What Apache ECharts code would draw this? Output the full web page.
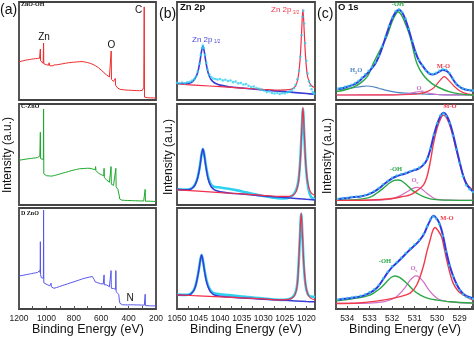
<!DOCTYPE html>
<html><head><meta charset="utf-8">
<script src="https://cdn.jsdelivr.net/npm/echarts@6/dist/echarts.min.js"></script>
<style>html,body{margin:0;padding:0;background:#fff}#c{width:474px;height:337px}</style>
</head><body><div id="c"></div>
<script>
// ---------- DATA (x = binding energy eV, y = relative intensity 0-100 of each panel) ----------
const aZnOOH = [[1200,39],[1192,40],[1185,39.5],[1178,40.5],[1170,40],[1162,41],[1155,40.5],[1147,41.5],[1140,41],[1132,41.8],[1125,41.2],[1117,42.2],[1110,41.6],[1102,42.5],[1095,42],[1087,42.8],[1080,42.2],[1072,43],[1065,42.4],[1058,43.2],[1050,42.6],[1047,44],[1045.5,41.5],[1044,52],[1042.5,40],[1038,38.5],[1030,38],[1024,37.5],[1022,38],[1020.5,58],[1019,37],[1014,36.5],[1008,35.5],[1000,36],[992,35],[985,35.5],[980,38],[976,35],[968,35.5],[960,34.8],[950,35.3],[940,35.8],[930,36.2],[920,36],[910,36.8],[900,36.5],[890,37.2],[880,37],[870,37.8],[860,37.5],[850,38.2],[840,38],[830,38.6],[820,38.3],[810,39],[800,38.6],[790,39.2],[780,38.8],[770,39.5],[760,39.1],[750,39.6],[740,39.2],[730,39.5],[720,38.8],[710,38.9],[700,38.2],[690,38],[680,37.4],[670,37],[660,36.3],[650,35.5],[640,34.8],[630,33.8],[620,33],[610,31.9],[600,30.5],[590,29.5],[580,28],[570,27],[560,25.5],[550,24.8],[540,23.5],[533,23],[529,22.5],[527,50],[525,21],[518,20],[510,19],[503,18],[499,17.5],[497,22],[495,15],[488,13],[478,12],[468,11],[460,10.8],[450,10.3],[440,10.5],[430,9.9],[420,10.2],[410,9.7],[400,10],[390,9.6],[380,9.9],[370,9.4],[360,9.7],[350,9.3],[340,9.6],[330,9.2],[320,9.5],[310,9.1],[300,9.8],[295,11.5],[292,10],[289,13],[286,95],[284,3],[280,2.4],[270,2.1],[260,2.3],[250,2],[240,2.2],[230,1.9],[220,2.1],[210,1.8],[200,2]];
const aCZnO = [[1200,44.5],[1192,45],[1185,44.6],[1177,45.4],[1170,45],[1162,45.7],[1155,45.3],[1147,46],[1140,45.6],[1132,46.3],[1125,45.9],[1117,46.6],[1110,46.1],[1102,46.8],[1095,46.4],[1087,47],[1080,46.6],[1072,47.3],[1065,47],[1058,47.6],[1052,47.2],[1048,48.5],[1045.5,47],[1044,72],[1042.5,46],[1038,45],[1030,44.5],[1022,45],[1020.5,95],[1019,31],[1014,30],[1008,29.5],[1000,29],[990,28.5],[980,28.8],[975,30.5],[972,28.2],[960,28.6],[950,28.9],[940,29.3],[930,29.6],[920,30],[910,30.4],[900,30.8],[890,31.2],[880,31.6],[870,32],[860,32.3],[850,32.7],[840,33.1],[830,33.4],[820,33.9],[810,34.2],[800,34.6],[790,35],[780,35.2],[770,35.6],[760,35.8],[750,36.2],[740,36],[730,36.5],[720,36.2],[710,36.7],[700,36.4],[690,36.8],[682,36.3],[670,36],[660,35.5],[650,35],[643,35],[641,38],[638,34],[630,32.5],[620,31.5],[609,30.7],[600,30],[590,29.5],[581,29],[579,36.3],[577,27],[568,26],[560,24.8],[550,23.5],[540,22.5],[530,22],[528,38],[526,20.5],[518,20],[510,19.5],[500,19],[495,19],[493,36.3],[491,18],[485,17],[478,15.5],[472,14.5],[470,15.5],[468,9],[465,6],[460,5.2],[450,4.8],[440,4.4],[430,4.6],[420,4.3],[410,4.5],[400,4.2],[390,4.4],[380,4.1],[370,4.3],[360,4],[350,4.2],[340,3.9],[330,4.1],[320,3.8],[310,4],[300,3.8],[290,4],[281,4.2],[279,15.5],[277,3.7],[270,3.6],[260,3.8],[250,3.5],[240,3.7],[230,3.4],[220,3.6],[210,3.5],[200,3.4]];
const aDZnO = [[1200,32.7],[1192,33.2],[1185,33],[1177,33.6],[1170,33.4],[1162,34],[1155,33.8],[1147,34.4],[1140,34.2],[1132,34.8],[1125,34.6],[1117,35.2],[1110,35],[1102,35.6],[1095,35.4],[1087,36],[1080,35.8],[1072,36.4],[1065,36.2],[1058,36.8],[1052,36.6],[1048,38],[1045.5,36],[1044,66.6],[1042.5,34],[1037,31],[1030,30],[1022,30.5],[1020.5,98],[1019,26],[1014,25.5],[1005,25],[995,24.2],[985,23.6],[975,23],[968,23.2],[966,25.5],[964,22],[955,21],[945,20.5],[935,20.9],[925,21.3],[915,21.7],[905,22.2],[895,22.6],[885,23.1],[875,23.5],[865,24],[855,24.4],[845,24.9],[835,25.3],[825,25.8],[815,26.2],[805,26.7],[795,27.1],[785,27.6],[775,28],[765,28.5],[755,28.9],[745,29.4],[735,29.8],[725,30.3],[715,30.6],[705,31],[695,31.2],[685,31.6],[675,31.8],[665,32.2],[658,32],[650,29],[645,27],[635,26.5],[625,26],[615,25.5],[605,25],[595,25.3],[585,24.8],[581,24.5],[579,33.7],[577,24],[568,24],[560,23.8],[550,23],[540,22],[530,21],[528,38],[526,20.5],[520,20.5],[510,20.3],[500,20],[495,19.5],[493,38],[491,17],[485,16.5],[478,15.5],[472,14.5],[470,12],[467,8],[463,5.6],[455,4.5],[445,4.2],[435,4.4],[425,4.1],[415,4.3],[405,4],[400,4.6],[395,4],[385,4.2],[375,3.9],[365,4.1],[355,3.8],[345,4],[335,3.8],[325,4],[315,3.7],[305,3.9],[295,3.6],[285,3.8],[281,3.9],[279,14.6],[277,3.4],[265,3.3],[250,3.2],[235,3.1],[220,3.1],[210,3],[200,3]];

const bCyan1 = [[1050,17.5],[1049.4,16.5],[1048.8,17.8],[1048.2,17],[1047.6,18],[1047,18.6],[1046.5,19.8],[1046,21.5],[1045.6,24],[1045.2,29],[1044.8,37],[1044.5,46],[1044.2,53],[1044,55.5],[1043.8,53],[1043.5,46],[1043.2,38],[1042.9,31],[1042.5,26],[1042.1,23.5],[1041.6,22],[1041.1,21.5],[1040.6,20.8],[1040,21.5],[1039.4,20],[1038.8,20.6],[1038.2,19.4],[1037.6,19.9],[1037,18.2],[1036.4,18.8],[1035.8,17],[1035.2,17.4],[1034.6,15.8],[1034,16.2],[1033.4,14.6],[1032.8,13.2],[1032.2,13.8],[1031.6,12.2],[1031,11.5],[1030.4,10.4],[1029.8,9.6],[1029.2,8.2],[1028.6,8.8],[1028,7.2],[1027.4,6.6],[1026.8,7.4],[1026.2,6.2],[1025.6,7],[1025,6.8],[1024.4,7.8],[1023.9,8.5],[1023.4,9.8],[1022.9,12],[1022.5,15.5],[1022.1,21],[1021.7,30],[1021.4,44],[1021.1,66],[1020.9,85],[1020.7,91],[1020.5,78],[1020.3,58],[1020,40],[1019.7,27],[1019.4,19],[1019.1,14.5],[1018.8,11],[1018.5,8],[1018.2,6.5]];
const bBlue1 = [[1050,17],[1048,16.8],[1047,17.3],[1046.4,18.8],[1045.8,22],[1045.2,28],[1044.7,39],[1044.3,50],[1044,55],[1043.7,50],[1043.3,39],[1042.8,28],[1042.2,21.5],[1041.6,18.5],[1041,16.8],[1040,15.2],[1038,13.6],[1035,12.2],[1030,10.2],[1025,8.5],[1020,6.6],[1018,5.8]];
const bRed1 = [[1050,16.3],[1045,15],[1040,13.6],[1035,12.2],[1030,10.8],[1026,10],[1024,10.5],[1023,12],[1022.3,16],[1021.8,26],[1021.4,45],[1021.1,70],[1020.8,92.5],[1020.5,70],[1020.2,45],[1019.8,26],[1019.3,18],[1018.8,14.5],[1018,12.5]];
const bCyan2 = [[1050,15.5],[1048,15.2],[1047,15.8],[1046.4,17.2],[1045.8,20.5],[1045.2,27.5],[1044.7,38.5],[1044.3,50.5],[1044,55.5],[1043.7,50.5],[1043.3,39],[1042.8,28],[1042.2,21],[1041.6,18.5],[1041,17.8],[1040,17.3],[1038,16],[1036,14.5],[1034,12.5],[1032,10.5],[1030,9],[1028,7.5],[1026,6.5],[1024.5,6.8],[1023.5,8.5],[1022.8,11.5],[1022.2,17],[1021.8,25],[1021.4,46],[1021.1,72],[1020.8,95],[1020.5,70],[1020.2,44],[1019.8,24],[1019.3,12],[1018.8,7.5],[1018,5.5]];
const bBlue2 = [[1050,15.5],[1048,15],[1047,15.4],[1046.4,16.8],[1045.8,20],[1045.2,27],[1044.7,38],[1044.3,50],[1044,55.4],[1043.7,50],[1043.3,38],[1042.8,26],[1042.2,19],[1041.6,16],[1041,14.3],[1040,13.2],[1038,12],[1035,10.8],[1030,9],[1025,7.3],[1020,5.6],[1018,5]];
const bRed2 = [[1050,15],[1045,13.7],[1040,12.3],[1035,11],[1030,9.6],[1026,8.5],[1024,8.6],[1023,10],[1022.3,14],[1021.8,24],[1021.4,45],[1021.1,72],[1020.8,96.7],[1020.5,72],[1020.2,45],[1019.8,25],[1019.3,15.5],[1018.8,11.5],[1018,9.5]];
const bCyan3 = [[1050,14.2],[1048,14],[1047,14.6],[1046.6,16],[1046,19.5],[1045.5,26.5],[1045,37.5],[1044.6,48.5],[1044.3,53.5],[1044,48.5],[1043.6,38],[1043.1,27.5],[1042.5,20.5],[1041.9,17],[1041.3,15.5],[1040,14.6],[1038,13.8],[1036,12.9],[1034,12],[1032,11.2],[1030,10.4],[1028,9.6],[1026,9],[1024.6,9.3],[1023.4,11],[1022.7,14.5],[1022.2,22],[1021.8,44],[1021.5,71],[1021.2,94],[1020.9,71],[1020.6,44],[1020.2,24],[1019.7,15],[1019.1,12.5],[1018,12]];
const bBlue3 = [[1050,13.9],[1048,13.6],[1047,14.2],[1046.6,15.6],[1046,19],[1045.5,26],[1045,37],[1044.6,48],[1044.3,53.5],[1044,48],[1043.6,37],[1043.1,26],[1042.5,19],[1041.9,15.5],[1041.3,13.8],[1040,12.6],[1038,11.8],[1035,10.9],[1030,9.7],[1025,8.6],[1020,7.5],[1018,7.2]];
const bRed3 = [[1050,14],[1045,13],[1040,12],[1035,11],[1030,10],[1026.5,9],[1024.5,9.2],[1023.3,10.8],[1022.6,14.5],[1022.1,24],[1021.8,45],[1021.5,72],[1021.2,95.3],[1020.9,72],[1020.6,45],[1020.2,25],[1019.7,15],[1019.1,11],[1018,9]];

const cEnv1 = [[534.4,11.3],[534.25,12],[534.1,12.8],[533.95,13.7],[533.8,14.9],[533.65,16.5],[533.5,18.6],[533.35,21.8],[533.2,25],[533.05,28.5],[532.9,32.5],[532.75,37],[532.6,44],[532.45,53],[532.3,63.5],[532.15,74],[532,83],[531.85,89.5],[531.7,92],[531.55,89],[531.4,81.5],[531.25,71],[531.1,59],[530.95,48],[530.8,40],[530.65,35],[530.5,30.5],[530.35,27],[530.2,26],[530.05,27],[529.9,29],[529.75,30.5],[529.6,30],[529.45,27],[529.3,21.5],[529.15,16.5],[529,13.5],[528.85,11.5],[528.7,10.5],[528.55,10],[528.4,9.5]];
const cData1 = [[534.4,11.8],[534.25,12.3],[534.1,13.4],[533.95,14.2],[533.8,15.6],[533.65,17.3],[533.5,19.5],[533.35,22.8],[533.2,26.3],[533.05,29.8],[532.9,33.6],[532.75,38.2],[532.6,45],[532.45,54.5],[532.3,64.5],[532.15,75.5],[532,84],[531.85,90.5],[531.7,92.5],[531.55,89.8],[531.4,82.8],[531.25,72.5],[531.1,60.5],[530.95,49],[530.8,40.8],[530.65,35.5],[530.5,30.2],[530.35,27.4],[530.2,26.6],[530.05,27.8],[529.9,29.8],[529.75,31.5],[529.6,30.8],[529.45,27.5],[529.3,22],[529.15,16.8],[529,13.8],[528.85,11.8],[528.7,10.6],[528.55,10.2],[528.4,9.7]];
const cOH1 = [[534.47,8.5],[534,11],[533.7,13.5],[533.43,17],[533.1,24],[532.84,37.4],[532.54,51],[532.24,64.6],[532,80],[531.85,87],[531.73,90],[531.6,87],[531.45,80],[531.2,64.6],[530.9,37.4],[530.6,25],[530.24,17],[529.9,12.5],[529.47,8.5],[529,6.3],[528.36,5.1]];
const cH2O1 = [[534.47,10.2],[534,11.5],[533.6,13],[533.3,14],[533.1,14.3],[532.9,13.8],[532.6,12],[532.2,9.5],[531.8,7.8],[531.4,7],[531,6.6],[530.5,6],[530,5.6],[529.5,5.3],[528.36,5.1]];
const cMO1 = [[534.47,5.1],[532,5.2],[531.2,5.6],[530.8,6.4],[530.5,8],[530.2,11.5],[530,16.3],[529.85,20.5],[529.68,23.8],[529.5,20.5],[529.25,14.3],[529,9.5],[528.66,6.2],[528.36,5.5]];
const cOv1 = [[534.47,5.1],[532,5.1],[531.5,5.6],[531.2,6.8],[530.95,8],[530.8,8.5],[530.6,8],[530.35,6.8],[530,5.6],[529.5,5.2],[528.36,5.1]];

const cEnv2 = [[534.4,6],[534.2,6.5],[534,7],[533.8,7.6],[533.6,8],[533.4,8.5],[533.2,9.5],[533,11],[532.8,13.3],[532.6,16.2],[532.4,19.8],[532.2,23.3],[532,26.3],[531.8,28.5],[531.6,30],[531.4,31.2],[531.2,33],[531,34.5],[530.8,36.3],[530.6,40],[530.45,45],[530.3,55],[530.15,68.5],[530,80],[529.85,88],[529.72,91.4],[529.6,89.5],[529.45,82.5],[529.3,71],[529.15,57],[529,43],[528.85,30],[528.7,21],[528.55,16.5],[528.4,13.3]];
const cData2 = [[534.4,6.2],[534.2,6.8],[534,7.2],[533.8,7.9],[533.6,8.3],[533.4,8.9],[533.2,9.9],[533,11.5],[532.8,13.9],[532.6,16.8],[532.4,20.5],[532.2,24],[532,27],[531.8,29.2],[531.6,30.6],[531.4,31.8],[531.2,33.6],[531,35.2],[530.8,37],[530.6,40.8],[530.45,46],[530.3,56],[530.15,69.5],[530,81],[529.85,88.8],[529.72,90.5],[529.6,88],[529.45,81],[529.3,68.5],[529.15,55],[529,41.5],[528.85,28.5],[528.7,19.5],[528.55,15.5],[528.4,12.8]];
const cMO2 = [[534.47,4.6],[533,5],[532,6.5],[531.5,8.5],[531.2,10],[530.9,14],[530.6,20],[530.45,28],[530.3,43],[530.15,62],[530,76],[529.85,85],[529.72,89],[529.6,87],[529.45,80],[529.3,69],[529.15,55],[529,42],[528.85,30],[528.7,22],[528.55,17.5],[528.4,14.5]];
const cOH2 = [[534.47,4.8],[533.6,5.3],[533.2,6.5],[532.9,8.6],[532.69,11.6],[532.4,16.5],[532.1,22],[531.9,24.3],[531.75,24.8],[531.6,24.2],[531.35,19.8],[531.1,14.5],[530.76,9.9],[530.45,7],[530.17,5.6],[529.5,4.8],[528.4,4.6]];
const cOv2 = [[534.47,4.6],[532.6,4.8],[532.2,5.5],[531.95,6.6],[531.65,9],[531.35,12.9],[531.1,16.2],[530.9,17.5],[530.7,16],[530.46,11.6],[530.2,7.5],[530,5.6],[529.5,4.8],[528.4,4.6]];

const cEnv3 = [[534.4,9.2],[534.2,9.8],[534,10.4],[533.8,11],[533.6,11.7],[533.4,12.5],[533.2,14],[533,16],[532.8,18.7],[532.6,23],[532.4,29.5],[532.2,36],[532,41.5],[531.8,45.5],[531.6,50],[531.4,54.5],[531.2,59],[531,63],[530.8,67.5],[530.6,73.5],[530.45,81],[530.3,88],[530.17,92.3],[530.05,90.5],[529.9,85],[529.75,74],[529.6,58],[529.45,44],[529.3,33.5],[529.15,25.5],[529,19.5],[528.85,15.5],[528.7,13],[528.55,11.7],[528.4,10.8]];
const cData3 = [[534.4,9.6],[534.2,10.2],[534,10.9],[533.8,11.5],[533.6,12.2],[533.4,13.1],[533.2,14.6],[533,16.7],[532.8,19.5],[532.6,23.8],[532.4,30.3],[532.2,36.8],[532,42.3],[531.8,46.3],[531.6,50.8],[531.4,55.3],[531.2,59.8],[531,63.8],[530.8,68.3],[530.6,74.3],[530.45,81.8],[530.3,88.8],[530.17,91.5],[530.05,89.5],[529.9,84],[529.75,72.5],[529.6,57],[529.45,43],[529.3,32.5],[529.15,24.5],[529,18.5],[528.85,14.5],[528.7,12],[528.55,10.8],[528.4,10]];
const cMO3 = [[534.47,5.5],[533.5,6],[532.8,7.5],[532.2,9.5],[531.7,12],[531.2,15.7],[530.9,24],[530.61,42.3],[530.45,57],[530.31,68.3],[530.2,77],[530.09,80.7],[529.95,77.5],[529.8,71.6],[529.7,62],[529.57,48.5],[529.42,35],[529.28,25.4],[529.05,17.5],[528.83,13.9],[528.6,11],[528.39,8.9]];
const cOH3 = [[534.47,8.2],[534,9.3],[533.5,11],[533.1,13],[532.84,15.5],[532.5,21],[532.24,27],[532.05,31.2],[531.87,32.7],[531.65,31],[531.35,25.4],[531.05,18.5],[530.76,13.9],[530.4,10.5],[530.02,8.9],[529.42,7.2],[528.39,6]];
const cOv3 = [[534.47,5.5],[533,5.8],[532.4,7],[532.1,8.9],[531.85,11.5],[531.65,15.5],[531.4,22],[531.2,28.7],[531.05,31.8],[530.94,32.7],[530.8,31.5],[530.61,27],[530.4,20],[530.17,13.9],[529.95,10],[529.72,8.2],[529.2,6.5],[528.39,5.8]];

const bLabelValues = [1020,1025,1030,1035,1040,1045,1050];
const bTickValues = [1020,1022.5,1025,1027.5,1030,1032.5,1035,1037.5,1040,1042.5,1045,1047.5,1050];
const cLabelValues = [529,530,531,532,533,534];
const cTickValues = [528.5,529,529.5,530,530.5,531,531.5,532,532.5,533,533.5,534,534.5];
const surveyNames = ['ZnO-OH','C-ZnO','D ZnO'];

// ---------- LAYOUT ----------
const rows = [{top:2,h:98},{top:104,h:101},{top:208,h:101}];
const cols = [{left:19,w:137},{left:177,w:138},{left:336,w:137}];
const SANS = "'Liberation Sans', Arial, sans-serif";
const SERIF = "'Liberation Serif', 'DejaVu Serif', serif";

const grids=[], xAxes=[], yAxes=[], series=[];
rows.forEach((r,ri)=>cols.forEach((c,ci)=>{
  const gi = ri*3+ci;
  grids.push({left:c.left, top:r.top, width:c.w, height:r.h, show:true, borderColor:'#444', borderWidth:1.8, backgroundColor:'#fff'});
  const bottom = ri===2;
  const ax = {type:'value', gridIndex:gi, inverse:true, splitLine:{show:false},
    axisLine:{show:bottom, lineStyle:{color:'#444', width:1.8}},
    axisTick:{show:bottom, inside:true, length:3, lineStyle:{color:'#555'}},
    axisLabel:{show:bottom, fontSize:8.5, color:'#222', margin:5, fontFamily:SANS, formatter:(v)=>String(v)}};
  if(ci===0){ ax.min=200; ax.max=1200; ax.interval=200; ax.minorTick={show:bottom, splitNumber:2, length:3, lineStyle:{color:'#555'}}; }
  if(ci===1){ ax.min=1018; ax.max=1050; ax.axisTick.customValues=bTickValues; ax.axisLabel.customValues=bLabelValues; }
  if(ci===2){ ax.min=528.4; ax.max=534.5; ax.axisTick.customValues=cTickValues; ax.axisLabel.customValues=cLabelValues; }
  if(!bottom) ax.show=false;
  xAxes.push(ax);
  yAxes.push({type:'value', gridIndex:gi, min:0, max:100, show:false});
}));

function line(gi, data, color, width, smooth){
  series.push({type:'line', xAxisIndex:gi, yAxisIndex:gi, data, showSymbol:false, smooth:smooth?0.35:false,
    lineStyle:{color, width}, itemStyle:{color}, silent:true, z:3});
}
function dots(gi, data, color, size){
  series.push({type:'scatter', xAxisIndex:gi, yAxisIndex:gi, data, symbol:'circle', symbolSize:size, itemStyle:{color}, silent:true, z:5});
}
// (a) survey
line(0, aZnOOH, '#ee2b2b', 1, false);
line(3, aCZnO, '#1caa2c', 1, false);
line(6, aDZnO, '#5656ec', 1, false);
// (b) Zn 2p
const cy='#2fd0f0', bb='#3a3ad6', br='#f0304a';
line(1, bBlue1, bb, 1.6, true); line(1, bRed1, br, 1.2, true); dots(1, bCyan1, cy, 2.6);
line(4, bCyan2, cy, 2.6, true); line(4, bBlue2, bb, 1.5, true); line(4, bRed2, br, 1.2, true);
line(7, bCyan3, cy, 2.6, true); line(7, bBlue3, bb, 1.5, true); line(7, bRed3, br, 1.2, true);
// (c) O 1s
const ce='#2d3ae0', cg='#2aa845', cr='#f03a4a', cp='#cf6fc8', ch='#4f86c0', cd='#35c8ee';
line(2, cH2O1, ch, 1.2, true); line(2, cOv1, cp, 1.2, true); line(2, cMO1, cr, 1.2, true); line(2, cOH1, cg, 1.4, true); line(2, cEnv1, ce, 2, true); dots(2, cData1, cd, 2.6);
line(5, cOv2, cp, 1.2, true); line(5, cOH2, cg, 1.4, true); line(5, cMO2, cr, 1.4, true); line(5, cEnv2, ce, 2, true); dots(5, cData2, cd, 2.6);
line(8, cOv3, cp, 1.2, true); line(8, cOH3, cg, 1.4, true); line(8, cMO3, cr, 1.4, true); line(8, cEnv3, ce, 2, true); dots(8, cData3, cd, 2.6);

// ---------- TEXT ----------
function t(x,y,text,o){ o=o||{}; return {type:'text', x, y, rotation:o.rot||0, z:100, silent:true,
  style:{text, fill:o.c||'#111', fontSize:o.s||10, fontWeight:o.w||'normal', fontFamily:o.f||SANS,
    textAlign:o.a||'left', textVerticalAlign:'middle'}}; }
const g = [
  t(0,10,'(a)',{s:14}), t(159,14,'(b)',{s:14}), t(317,14,'(c)',{s:14}),
  t(21,4.5,surveyNames[0],{s:6,w:'bold',f:SERIF}), t(21,106,surveyNames[1],{s:6,w:'bold',f:SERIF}), t(21,213,surveyNames[2],{s:6,w:'bold',f:SERIF}),
  t(44,37,'Zn',{s:10,a:'center'}), t(111.5,45,'O',{s:10,a:'center'}), t(138.5,10.5,'C',{s:10,a:'center'}), t(130,298,'N',{s:10,a:'center'}),
  t(180,7,'Zn 2p',{s:9.5,w:'bold'}), t(338,7.5,'O 1s',{s:9.5,w:'bold'}),
  t(192,39.5,'Zn 2p',{s:8,c:'#4a4ad8'}), t(214,42,'1/2',{s:4.5,c:'#4a4ad8'}),
  t(271,10,'Zn 2p',{s:8,c:'#f03a50'}), t(293,12.5,'3/2',{s:4.5,c:'#f03a50'}),
  t(398,4.5,'-OH',{s:6.5,w:'bold',f:SERIF,c:cg,a:'center'}),
  t(350,70.7,'H',{s:6.5,w:'bold',f:SERIF,c:ch}), t(355,72.5,'2',{s:4.5,w:'bold',f:SERIF,c:ch}), t(357.3,70.7,'O',{s:6.5,w:'bold',f:SERIF,c:ch}),
  t(443.5,66,'M-O',{s:6.5,w:'bold',f:SERIF,c:cr,a:'center'}),
  t(416.5,88.3,'O',{s:6.5,w:'bold',f:SERIF,c:cp}), t(421.3,90.5,'v',{s:4.5,w:'bold',f:SERIF,c:cp}),
  t(450,106,'M-O',{s:6.5,w:'bold',f:SERIF,c:cr,a:'center'}),
  t(396,169.5,'-OH',{s:6.5,w:'bold',f:SERIF,c:cg,a:'center'}),
  t(411.5,180.5,'O',{s:6.5,w:'bold',f:SERIF,c:cp}), t(416.3,182.7,'v',{s:4.5,w:'bold',f:SERIF,c:cp}),
  t(447,218.5,'M-O',{s:6.5,w:'bold',f:SERIF,c:cr,a:'center'}),
  t(385,261.7,'-OH',{s:6.5,w:'bold',f:SERIF,c:cg,a:'center'}),
  t(410.5,268.5,'O',{s:6.5,w:'bold',f:SERIF,c:cp}), t(415.3,270.7,'v',{s:4.5,w:'bold',f:SERIF,c:cp}),
  t(88,330,'Binding Energy (eV)',{s:12.5,a:'center'}), t(246,330,'Binding Energy (eV)',{s:12.5,a:'center'}), t(405,330,'Binding Energy (eV)',{s:12.5,a:'center'}),
  t(7.5,155,'Intensity (a.u.)',{s:12,a:'center',rot:Math.PI/2}), t(168.5,157,'Intensity (a.u.)',{s:12,a:'center',rot:Math.PI/2}), t(328,156,'Intensity (a.u.)',{s:12,a:'center',rot:Math.PI/2})
];

const chart = echarts.init(document.getElementById('c'), null, {renderer:'canvas'});
chart.setOption({animation:false, backgroundColor:'#fff', grid:grids, xAxis:xAxes, yAxis:yAxes, series, graphic:g});
</script></body></html>
